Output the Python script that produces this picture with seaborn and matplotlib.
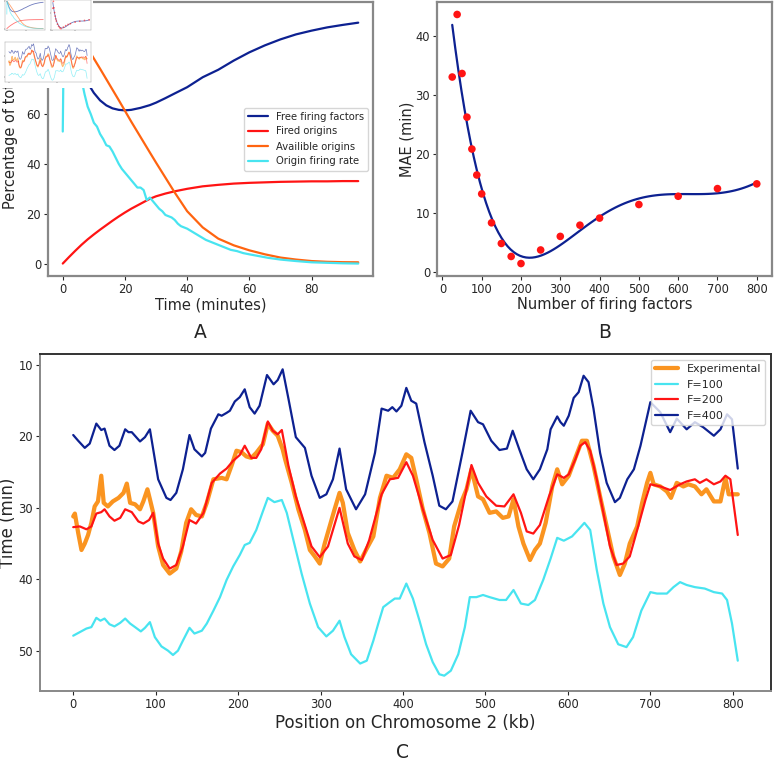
import numpy as np
import pandas as pd
import matplotlib
matplotlib.use("Agg")
import matplotlib.pyplot as plt
from matplotlib.patches import Rectangle
import seaborn as sns

sns.set_style("ticks")
plt.rcParams['font.family'] = ['DejaVu Sans']

# ---------------- Panel A data ----------------
time_a = [0, 2, 4, 6, 8, 10, 12, 14, 16, 18, 20, 22, 25, 28, 30, 33, 36, 40, 45,
          50, 55, 60, 65, 70, 75, 80, 85, 90, 95]
free_factors = [100, 93, 85, 78, 72.5, 68.5, 65.5, 63.5, 62.3, 61.7, 61.5, 61.7, 62.5,
                63.6, 64.6, 66.4, 68.3, 70.8, 74.8, 77.8, 81.5, 84.8, 87.6, 90.0, 92.0,
                93.5, 94.8, 95.8, 96.7]
fired_origins = [0, 2.6, 5.1, 7.5, 9.7, 11.7, 13.6, 15.4, 17.2, 18.9, 20.5, 22.0, 24.0,
                 26.0, 27.0, 28.1, 29.0, 30.0, 31.0, 31.6, 32.1, 32.4, 32.6, 32.8, 32.9,
                 33.0, 33.0, 33.1, 33.1]
available_origins = [100, 97.5, 94, 90.5, 86.5, 82.3, 78.2, 74, 69.8, 65.6, 61.3, 57.0,
                     50.8, 44.6, 40.5, 34.5, 28.5, 21.0, 14.5, 10.0, 7.3, 5.3, 3.7, 2.4,
                     1.6, 1.0, 0.7, 0.55, 0.5]
time_rate = [0, 0.4, 1, 2, 3, 4, 5, 6, 7, 8, 9, 10, 11, 12, 13, 14, 15, 16, 17, 18, 19,
             20, 21, 22, 23, 24, 25, 26, 27, 28, 29, 30, 31, 32, 33, 34, 35, 36, 37, 38,
             39, 40, 42, 44, 46, 48, 50, 52, 54, 56, 58, 60, 63, 66, 70, 75, 80, 85, 90, 95]
firing_rate = [53, 100, 100, 97, 92, 86, 80, 74, 68, 63, 60, 56.5, 55, 52, 50, 47.5, 47,
               45, 42.5, 40, 38, 36.5, 35, 33.5, 32, 30.5, 30.5, 29.5, 25.5, 26.5, 25,
               23.5, 22, 21, 19.5, 19, 18.5, 17.5, 16, 15, 14.5, 14, 12.5, 11, 9.5, 8.5,
               7.5, 6.5, 5.5, 5, 4.2, 3.7, 3, 2.3, 1.6, 1, 0.5, 0.3, 0.1, 0]

# ---------------- Panel B data ----------------
n_factors = [25, 37.5, 50, 62.5, 75, 87.5, 100, 125, 150, 175, 200, 250, 300, 350, 400,
             500, 600, 700, 800]
mae = [33.0, 43.6, 33.6, 26.2, 20.8, 16.4, 13.2, 8.3, 4.8, 2.6, 1.4, 3.7, 6.0, 7.9, 9.1,
       11.4, 12.8, 14.1, 14.9]

# ---------------- Panel C data ----------------
pos_exp = [0, 2, 6, 10, 14, 18, 22, 26, 30, 34, 37, 42, 48, 55, 61, 65, 69, 75, 81, 85,
           90, 93, 97, 103, 109, 117, 125, 131, 137, 143, 149, 156, 162, 170, 180, 186,
           192, 198, 204, 210, 216, 222, 230, 236, 242, 248, 254, 257, 265, 273, 281,
           287, 293, 299, 305, 311, 317, 323, 327, 333, 341, 348, 356, 364, 372, 380,
           388, 396, 404, 410, 416, 424, 432, 440, 448, 456, 462, 471, 477, 483, 491,
           497, 505, 513, 521, 528, 534, 540, 546, 554, 560, 566, 573, 581, 587, 593,
           601, 609, 617, 623, 631, 639, 647, 655, 663, 669, 675, 684, 690, 696, 700,
           704, 712, 720, 725, 732, 740, 746, 754, 762, 768, 777, 785, 791, 795, 800, 806]
time_exp = [31.2, 30.8, 33.5, 35.9, 35.0, 33.8, 32.1, 29.8, 29.1, 25.5, 29.3, 29.8, 29.1,
            28.6, 27.9, 26.6, 29.3, 29.5, 30.2, 29.1, 27.4, 28.8, 30.7, 35.4, 38.0, 39.2,
            38.5, 36.1, 32.1, 30.2, 31.0, 31.2, 29.3, 26.0, 25.8, 26.0, 24.1, 22.0, 22.2,
            22.8, 23.0, 22.3, 21.1, 18.2, 19.2, 19.9, 21.8, 23.2, 26.5, 30.2, 33.1, 35.9,
            36.8, 37.8, 35.0, 32.6, 30.2, 27.9, 29.3, 33.5, 35.9, 37.5, 35.7, 34.0, 28.6,
            25.5, 25.8, 24.6, 22.5, 23.0, 26.0, 30.2, 33.5, 37.8, 38.2, 37.1, 32.6, 29.1,
            27.4, 24.6, 28.4, 28.8, 30.7, 30.5, 31.4, 31.2, 28.8, 32.6, 35.0, 37.3, 35.9,
            35.0, 32.1, 27.0, 24.6, 26.7, 25.5, 23.0, 20.6, 20.6, 24.1, 28.4, 32.6, 36.8,
            39.4, 37.8, 35.0, 32.6, 29.3, 26.5, 25.1, 26.7, 27.0, 27.7, 28.6, 26.5, 27.0,
            26.7, 27.0, 28.1, 27.4, 29.1, 29.1, 25.8, 28.1, 28.1, 28.1]

pos_f100 = [0, 8, 16, 22, 28, 33, 38, 44, 50, 57, 63, 69, 75, 82, 87, 93, 99, 107, 115,
            121, 127, 133, 141, 147, 156, 162, 170, 178, 186, 194, 202, 208, 214, 222,
            230, 236, 244, 253, 259, 267, 277, 287, 297, 307, 315, 323, 329, 337, 348,
            356, 364, 370, 376, 384, 390, 396, 404, 412, 420, 428, 436, 444, 450, 458,
            467, 475, 481, 489, 497, 505, 517, 525, 534, 543, 552, 560, 570, 579, 587,
            595, 605, 613, 620, 627, 635, 643, 651, 661, 671, 679, 689, 700, 708, 720,
            728, 736, 744, 754, 766, 777, 787, 793, 799, 806]
time_f100 = [47.9, 47.4, 46.9, 46.7, 45.4, 45.8, 45.5, 46.3, 46.6, 46.1, 45.5, 46.2, 46.7,
             47.3, 46.8, 46.0, 48.1, 49.4, 50.0, 50.6, 50.0, 48.6, 46.8, 47.6, 47.2, 46.2,
             44.4, 42.5, 40.1, 38.2, 36.6, 35.2, 34.9, 33.1, 30.5, 28.6, 29.2, 28.9, 30.7,
             34.5, 39.2, 43.4, 46.7, 48.0, 47.2, 45.8, 48.1, 50.5, 51.8, 51.4, 48.6, 46.2,
             43.9, 43.2, 42.7, 42.7, 40.6, 42.7, 45.8, 49.1, 51.6, 53.3, 53.5, 52.8, 50.5,
             46.7, 42.5, 42.5, 42.2, 42.5, 42.9, 42.9, 41.5, 43.4, 43.6, 42.9, 40.1, 37.1,
             34.2, 34.6, 34.0, 33.0, 32.1, 33.1, 38.7, 43.4, 46.7, 49.1, 49.5, 48.1, 44.4,
             41.8, 42.0, 42.0, 41.1, 40.4, 40.8, 41.1, 41.3, 41.8, 42.0, 42.9, 46.2, 51.4]

pos_f200 = [0, 8, 16, 22, 28, 34, 38, 44, 50, 57, 63, 71, 79, 85, 92, 97, 103, 109, 117,
            125, 133, 141, 149, 158, 168, 178, 186, 194, 202, 208, 216, 222, 228, 236,
            242, 248, 253, 261, 270, 279, 289, 299, 309, 323, 333, 341, 350, 359, 374,
            384, 394, 404, 412, 424, 436, 448, 458, 468, 483, 491, 501, 513, 523, 534,
            543, 550, 558, 566, 577, 587, 595, 601, 609, 615, 621, 627, 635, 643, 651,
            659, 667, 675, 684, 694, 700, 712, 724, 736, 744, 754, 760, 768, 777, 785,
            791, 797, 806]
time_f200 = [32.7, 32.6, 33.0, 32.6, 30.8, 30.6, 30.2, 31.2, 31.8, 31.4, 30.2, 30.6, 31.9,
             32.2, 31.7, 30.7, 35.0, 37.1, 38.5, 38.0, 35.4, 31.7, 32.2, 30.7, 26.5, 25.2,
             24.5, 23.4, 22.6, 21.3, 23.0, 23.0, 21.8, 17.9, 19.2, 19.7, 19.1, 24.1, 28.4,
             31.7, 35.4, 36.9, 35.4, 30.0, 35.0, 36.8, 37.3, 34.5, 28.1, 26.0, 25.8, 23.6,
             25.5, 30.2, 34.5, 37.1, 36.6, 32.4, 24.0, 26.5, 28.4, 29.7, 29.8, 28.1, 30.7,
             33.3, 33.6, 32.4, 28.4, 25.3, 25.8, 25.3, 23.2, 21.3, 20.8, 22.0, 26.0, 30.7,
             35.4, 38.0, 37.8, 36.8, 33.1, 28.9, 26.7, 27.0, 27.5, 26.7, 26.3, 26.0, 26.5,
             26.0, 26.7, 26.3, 25.5, 26.0, 33.8]

pos_f400 = [0, 6, 14, 20, 28, 34, 38, 44, 50, 56, 63, 67, 71, 81, 87, 93, 103, 113, 118,
            125, 133, 141, 147, 156, 160, 167, 176, 180, 186, 190, 196, 202, 208, 214,
            220, 226, 235, 243, 248, 254, 261, 270, 281, 289, 299, 307, 315, 323, 331,
            343, 354, 366, 374, 382, 387, 392, 398, 404, 410, 416, 426, 436, 444, 452,
            460, 472, 482, 491, 497, 507, 517, 526, 533, 541, 550, 558, 566, 575, 579,
            587, 591, 595, 601, 607, 613, 619, 625, 631, 639, 647, 657, 663, 672, 680,
            688, 700, 712, 724, 732, 744, 754, 764, 777, 785, 793, 799, 806]
time_f400 = [19.8, 20.6, 21.6, 21.0, 18.2, 19.1, 18.9, 21.3, 21.9, 21.3, 19.0, 19.4, 19.4,
             20.7, 20.1, 19.0, 26.0, 28.6, 28.9, 27.9, 24.6, 19.8, 21.8, 22.8, 22.3, 18.9,
             16.9, 17.1, 16.7, 16.4, 15.1, 14.5, 13.4, 15.9, 16.8, 15.7, 11.4, 12.7, 12.1,
             10.6, 14.7, 20.1, 21.6, 25.5, 28.6, 28.1, 26.0, 21.7, 27.4, 30.2, 28.1, 22.3,
             16.1, 16.4, 15.9, 16.5, 15.7, 13.2, 15.0, 15.4, 20.8, 25.5, 29.7, 30.2, 29.1,
             22.3, 16.4, 18.0, 18.3, 20.6, 21.9, 21.7, 19.2, 21.8, 24.6, 26.0, 24.6, 21.8,
             19.0, 17.2, 18.0, 18.5, 17.1, 14.6, 13.8, 11.5, 12.4, 16.1, 22.3, 26.5, 29.2,
             28.6, 26.0, 24.6, 21.3, 15.2, 16.6, 19.4, 17.5, 19.0, 18.0, 18.7, 19.9, 19.0,
             16.9, 17.6, 24.5]

# ---------------- colours ----------------
NAVY = '#0d2191'
RED = '#ff1414'
ORANGE_A = '#ff6410'
CYAN = '#48e4f0'
ORANGE_EXP = '#fa9420'
GRAY = '#888888'

W, H = 774, 761
fig = plt.figure(figsize=(W / 100, H / 100), dpi=100)


def rect(left, top, right, bottom):
    return [left / W, 1 - bottom / H, (right - left) / W, (bottom - top) / H]


def draw_a(ax, lw=1.6, alpha=1.0):
    sns.lineplot(x=time_a, y=free_factors, ax=ax, color=NAVY, lw=lw, alpha=alpha,
                 label='Free firing factors')
    sns.lineplot(x=time_a, y=fired_origins, ax=ax, color=RED, lw=lw, alpha=alpha,
                 label='Fired origins')
    sns.lineplot(x=time_a, y=available_origins, ax=ax, color=ORANGE_A, lw=lw, alpha=alpha,
                 label='Availible origins')
    sns.lineplot(x=time_rate, y=firing_rate, ax=ax, color=CYAN, lw=lw, alpha=alpha,
                 label='Origin firing rate')


def draw_b(ax, lw=1.6, s=30, alpha=1.0):
    sns.regplot(x=n_factors, y=mae, ax=ax, order=5, ci=None, scatter=False,
                line_kws=dict(color=NAVY, lw=lw, alpha=alpha))
    sns.scatterplot(x=n_factors, y=mae, ax=ax, color=RED, s=s, edgecolor='none',
                    alpha=alpha, zorder=3)


def draw_c(ax, lw=1.6, alpha=1.0):
    sns.lineplot(x=pos_exp, y=time_exp, ax=ax, color=ORANGE_EXP, lw=lw * 1.9, alpha=alpha,
                 label='Experimental')
    sns.lineplot(x=pos_f100, y=time_f100, ax=ax, color=CYAN, lw=lw, alpha=alpha,
                 label='F=100')
    sns.lineplot(x=pos_f200, y=time_f200, ax=ax, color=RED, lw=lw, alpha=alpha,
                 label='F=200')
    sns.lineplot(x=pos_f400, y=time_f400, ax=ax, color=NAVY, lw=lw, alpha=alpha,
                 label='F=400')
    ax.invert_yaxis()


# ---------------- Panel A ----------------
axA = fig.add_axes(rect(48, 2, 373, 276))
draw_a(axA)
axA.set_xticks([0, 20, 40, 60, 80])
axA.set_yticks([0, 20, 40, 60, 80])
axA.set_xlabel('Time (minutes)', fontsize=10.5, labelpad=1)
axA.set_ylabel('Percentage of total', fontsize=10.5)
axA.yaxis.set_label_coords(-0.092, 0.5)
axA.tick_params(labelsize=8.3, length=3, pad=2)
axA.legend(loc='center right', fontsize=7.2, handlelength=2.0)

# ---------------- Panel B ----------------
axB = fig.add_axes(rect(437, 2, 772, 276))
draw_b(axB)
axB.set_xticks([0, 100, 200, 300, 400, 500, 600, 700, 800])
axB.set_yticks([0, 10, 20, 30, 40])
axB.set_xlabel('Number of firing factors', fontsize=10.5, labelpad=1)
axB.set_ylabel('MAE (min)', fontsize=10.5)
axB.yaxis.set_label_coords(-0.066, 0.5)
axB.tick_params(labelsize=8.3, length=3, pad=2)

for ax in (axA, axB):
    for sp in ax.spines.values():
        sp.set_visible(True)
        sp.set_color(GRAY)
        sp.set_linewidth(1.6)

# ---------------- Panel C ----------------
axC = fig.add_axes(rect(40, 354, 771, 691))
draw_c(axC)
axC.set_xticks([0, 100, 200, 300, 400, 500, 600, 700, 800])
axC.set_yticks([10, 20, 30, 40, 50])
axC.set_xlabel('Position on Chromosome 2 (kb)', fontsize=12, labelpad=2)
axC.set_ylabel('Time (min)', fontsize=12)
axC.yaxis.set_label_coords(-0.031, 0.5)
axC.tick_params(labelsize=8.3, length=3, pad=2)
axC.legend(loc='upper right', fontsize=8, handlelength=2.0)
for name, sp in axC.spines.items():
    sp.set_visible(True)
    sp.set_linewidth(1.4)
    sp.set_color(GRAY if name in ('left', 'bottom') else '#333333')

fig.text(200 / W, 1 - 332 / H, 'A', fontsize=13.5, ha='center', va='center')
fig.text(605 / W, 1 - 332 / H, 'B', fontsize=13.5, ha='center', va='center')
fig.text(403 / W, 1 - 753 / H, 'C', fontsize=13.5, ha='center', va='center')

# ---------------- thumbnail overlay (top-left) ----------------
fig.patches.append(Rectangle((0, 1 - 88 / H), 93 / W, 88 / H, transform=fig.transFigure,
                             facecolor='white', edgecolor='none', zorder=10))
mA = fig.add_axes(rect(5, 0, 45, 30), zorder=11)
draw_a(mA, lw=0.6, alpha=0.6)
mB = fig.add_axes(rect(51, 0, 91, 30), zorder=11)
draw_b(mB, lw=0.6, s=1.5, alpha=0.6)
mC = fig.add_axes(rect(5, 42, 91, 82), zorder=11)
draw_c(mC, lw=0.5, alpha=0.6)
for m in (mA, mB, mC):
    if m.get_legend() is not None:
        m.get_legend().remove()
    m.tick_params(labelleft=False, labelbottom=False, length=1, width=0.3)
    m.set_xlabel('')
    m.set_ylabel('')
    for sp in m.spines.values():
        sp.set_visible(True)
        sp.set_linewidth(0.3)
        sp.set_color('#999999')

fig.savefig('out.png', dpi=100)
